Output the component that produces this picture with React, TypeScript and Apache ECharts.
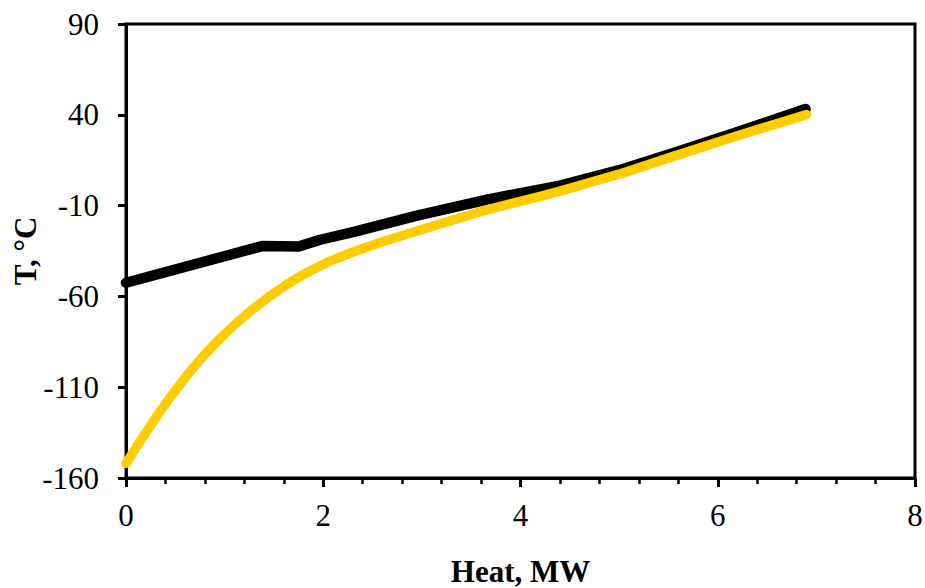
import React, { useEffect, useRef } from "react";
import * as echarts from "echarts";

const xTicks = [0, 2, 4, 6, 8];
const yTicks = [-160, -110, -60, -10, 40, 90];

const hotCurve: [number, number][] = [
  [0, -52.5], [1.38, -32.3], [1.75, -32.5], [1.97, -28.8], [2.31, -24.5],
  [2.95, -15.5], [3.66, -6.7], [4.4, 1.0], [5.0, 9.5], [5.55, 19.0],
  [6.2, 30.5], [6.89, 43.2],
];

const coldCurve: [number, number][] = [
  [0, -152], [0.14, -140], [0.28, -128.5], [0.45, -115.4], [0.62, -103.3],
  [0.78, -93.1], [0.95, -83.4], [1.12, -74.7], [1.29, -66.9], [1.46, -59.8],
  [1.63, -53.5], [1.8, -47.9], [1.97, -43.1], [2.14, -39], [2.31, -35.4],
  [2.6, -29.9], [2.95, -24], [3.3, -18.2], [3.66, -12.3], [4.2, -4.9],
  [4.4, -2], [5.0, 7.3], [5.55, 17.1], [6.2, 28.5], [6.9, 40.1],
];

const FONT = "Liberation Serif";

export default function App() {
  const ref = useRef<HTMLDivElement>(null);
  useEffect(() => {
    if (!ref.current) return;
    const chart = echarts.init(ref.current, null, { renderer: "svg" });
    chart.setOption({
      animation: false,
      backgroundColor: "#ffffff",
      grid: {
        left: 126, right: 10, top: 24, bottom: 110,
        show: true, borderColor: "#000", borderWidth: 3,
        outerBoundsMode: "none",
        containLabel: false,
      },
      xAxis: {
        type: "value",
        min: 0, max: 8, interval: 2,
        name: "Heat, MW",
        nameLocation: "middle",
        nameGap: 78,
        nameMoveOverlap: false,
        nameTextStyle: { fontFamily: FONT, fontSize: 31, fontWeight: "bold", color: "#000" },
        axisLine: { show: true, onZero: false, lineStyle: { color: "#000", width: 3 } },
        axisTick: { show: true, length: 9, lineStyle: { color: "#000", width: 3 }, customValues: xTicks },
        minorTick: { show: true, splitNumber: 5, length: 6, lineStyle: { color: "#000", width: 2.5 } },
        axisLabel: { fontFamily: FONT, fontSize: 31, color: "#000", margin: 22, customValues: xTicks },
        splitLine: { show: false },
      },
      yAxis: {
        type: "value",
        min: -160, max: 90, interval: 50,
        name: "T, °C",
        nameLocation: "middle",
        nameRotate: 90,
        nameGap: 85,
        nameMoveOverlap: false,
        nameTextStyle: { fontFamily: FONT, fontSize: 31, fontWeight: "bold", color: "#000" },
        axisLine: { show: true, onZero: false, lineStyle: { color: "#000", width: 3 } },
        axisTick: { show: true, length: 8, lineStyle: { color: "#000", width: 3 }, customValues: yTicks },
        axisLabel: { fontFamily: FONT, fontSize: 31, color: "#000", margin: 27, customValues: yTicks },
        splitLine: { show: false },
      },
      series: [
        {
          type: "line",
          data: hotCurve,
          showSymbol: false,
          lineStyle: { color: "#000000", width: 10.5, cap: "round", join: "round" },
          z: 2,
        },
        {
          type: "line",
          data: coldCurve,
          showSymbol: false,
          lineStyle: { color: "#FFCC00", width: 9.5, cap: "round", join: "round" },
          z: 3,
        },
      ],
    });
    return () => chart.dispose();
  }, []);
  return (
    <div
      ref={ref}
      style={{ position: "fixed", left: 0, top: 0, width: 925, height: 588, background: "#fff" }}
    />
  );
}
